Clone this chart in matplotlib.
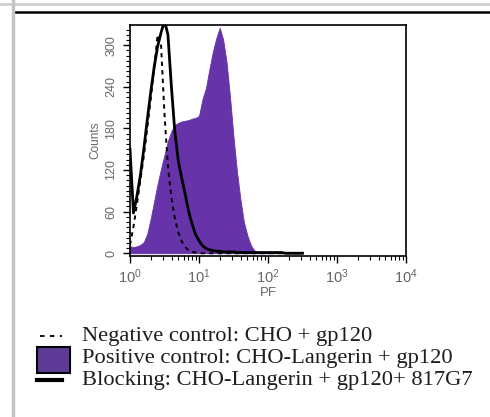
import numpy as np
import matplotlib
matplotlib.use("Agg")
import matplotlib.pyplot as plt
from matplotlib.lines import Line2D
from matplotlib.patches import Rectangle
from matplotlib.ticker import MultipleLocator, LogLocator

# histogram channels, log10(PF) from 0 to 2.5 in steps of 0.05
log_pf = np.round(np.arange(0, 2.55, 0.05), 2)

# counts
positive = [10, 9, 10, 12, 16, 28, 50, 75, 100, 122, 142, 162, 176, 185, 188, 190, 191,
            192, 194, 195, 198, 222, 238, 265, 290, 310, 325, 308, 275, 225, 168, 118,
            78, 45, 26, 12, 4, 2, 1, 1, 1, 1, 1, 1, 1, 0, 0, 0, 0, 0, 0]
blocking = [150, 58, 82, 112, 150, 192, 232, 268, 298, 318, 335, 315, 240, 175, 133, 108,
            85, 60, 42, 27, 18, 11, 7, 5, 4, 3, 3, 2, 2, 2, 2, 1, 1, 1, 1, 1, 1, 1, 1, 1,
            1, 1, 1, 1, 1, 0, 0, 0, 0, 0, 0]
negative = [12, 38, 70, 105, 140, 180, 222, 266, 315, 300, 200, 125, 80, 50, 30, 17, 9,
            4, 2, 1] + [0] * 31

legend_labels = ["Negative control: CHO + gp120",
                 "Positive control: CHO-Langerin + gp120",
                 "Blocking: CHO-Langerin + gp120+ 817G7"]

purple = "#6634a8"
W, H = 490, 417

fig = plt.figure(figsize=(W / 100, H / 100), dpi=100)
ax = fig.add_axes([130 / W, 1 - 256 / H, 276 / W, 231 / H])

x = 10 ** log_pf
ax.fill_between(x, positive, 0, color=purple, lw=0.6, edgecolor=purple, zorder=1)
ax.plot(x, negative, color="black", lw=1.4, ls=(0, (2.2, 2.2)), zorder=2)
ax.plot(x, blocking, color="black", lw=2.0, zorder=3)

ax.set_xscale("log")
ax.set_xlim(1, 1e4)
ax.set_ylim(-4, 329)
ax.set_yticks([0, 60, 120, 180, 240, 300])
ax.yaxis.set_minor_locator(MultipleLocator(7.5))
ax.xaxis.set_minor_locator(LogLocator(base=10, subs=np.arange(2, 10)))

for s in ax.spines.values():
    s.set_linewidth(1.2)
ax.tick_params(axis="both", which="major", direction="out", length=5, width=1,
               colors="black", labelcolor="#666666")
ax.tick_params(axis="both", which="minor", direction="out", length=3, width=0.8)
ax.tick_params(axis="y", labelrotation=90, labelsize=9, pad=4)
ax.tick_params(axis="x", labelsize=10.5, pad=3)
for lab in ax.get_yticklabels():
    lab.set_verticalalignment("center")
    lab.set_family("Liberation Sans")
for lab in ax.get_xticklabels():
    lab.set_family("Liberation Sans")

ax.set_xlabel("PF", fontsize=9.5, color="#666666", family="Liberation Sans", labelpad=1)
ax.set_ylabel("Counts", fontsize=8.5, color="#666666", family="Liberation Sans", labelpad=3)

# page decoration around the figure
fig.add_artist(Line2D([0, 1], [1 - 4 / H, 1 - 4 / H], color="#d0d0d0", lw=2))
fig.add_artist(Line2D([13 / W, 1], [1 - 12 / H, 1 - 12 / H], color="black", lw=1.8))
fig.add_artist(Line2D([13 / W, 13 / W], [0, 1], color="#c4c4c4", lw=2.5))

# legend drawn by hand
rows_y = [336, 358, 380]
fig.add_artist(Line2D([40 / W, 62 / W], [1 - rows_y[0] / H] * 2, color="black",
                      lw=1.3, ls=(0, (2.5, 3))))
fig.add_artist(Rectangle((37 / W, 1 - 373 / H), 33 / W, 26 / H, transform=fig.transFigure,
                         facecolor="#5c3c96", edgecolor="black", lw=1.5))
fig.add_artist(Line2D([37 / W, 62 / W], [1 - rows_y[2] / H] * 2, color="black", lw=3))
for yy, lab in zip(rows_y, legend_labels):
    fig.text(82 / W, 1 - yy / H, lab, family="Liberation Serif", fontsize=16.2,
             color="#1e1e1e", va="center", ha="left")

fig.savefig("out.png", dpi=100)
